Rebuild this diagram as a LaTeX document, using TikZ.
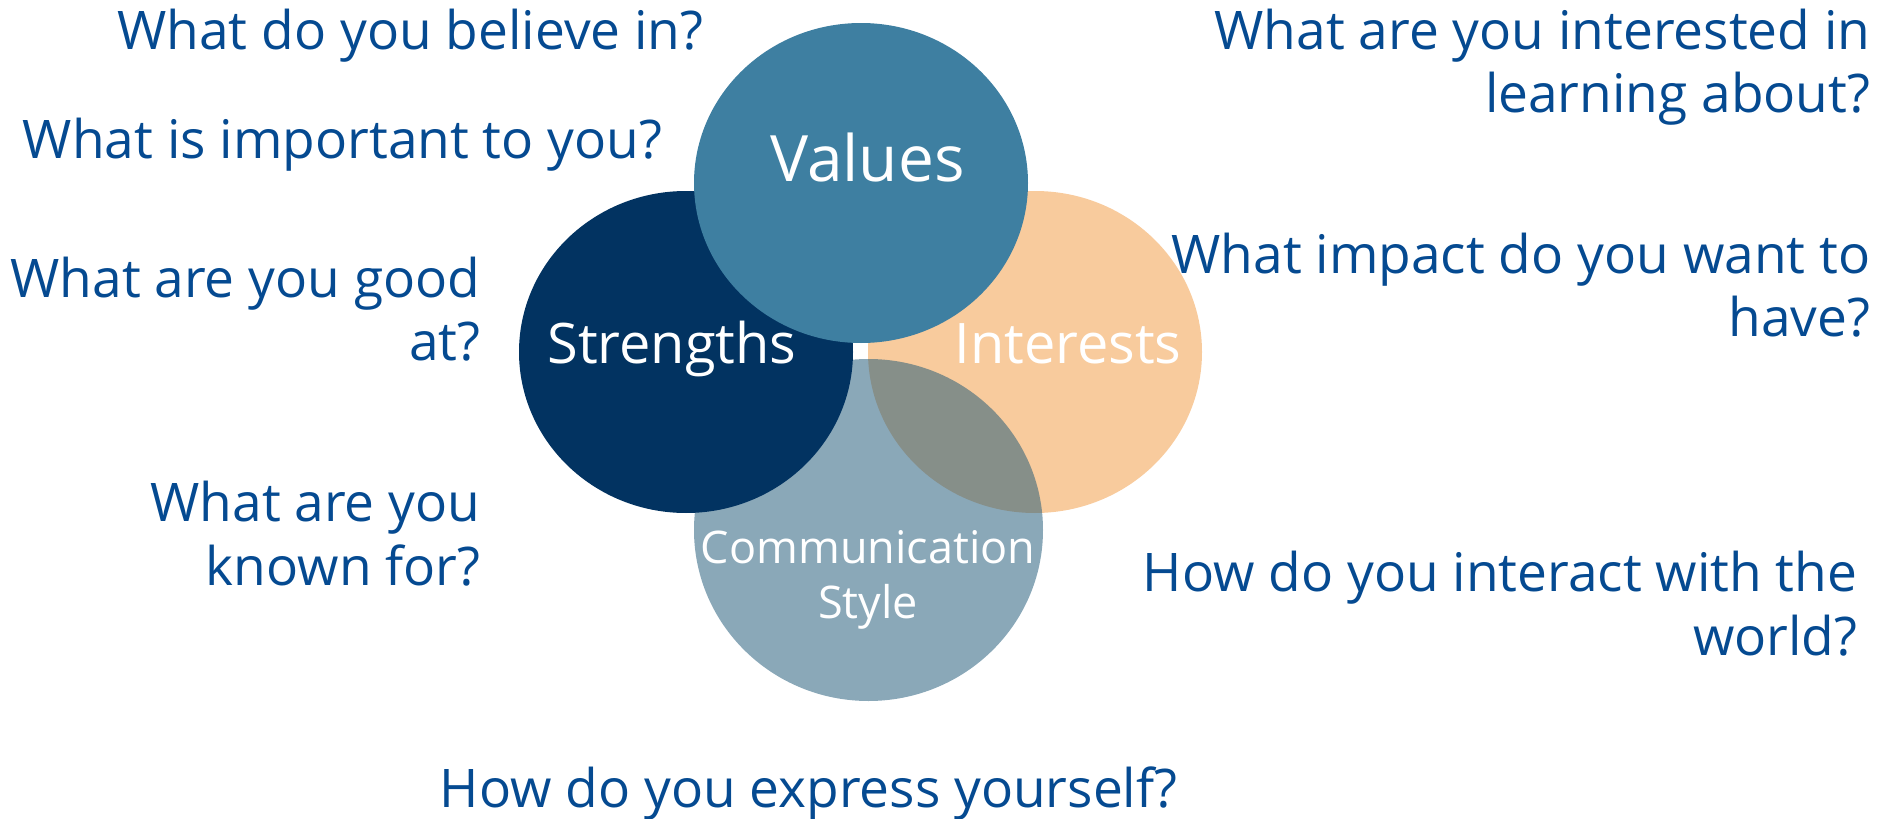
\documentclass[tikz,border=0pt]{standalone}
\usepackage{fontspec}
\setmainfont{Open Sans}
\usetikzlibrary{shapes.geometric}

\definecolor{valblue}{RGB}{62,127,161}
\definecolor{strnavy}{RGB}{2,51,97}
\definecolor{intpeach}{RGB}{248,203,157}
\definecolor{comgrey}{RGB}{32,89,120}
\definecolor{qblue}{RGB}{5,74,145}

\begin{document}
\begin{tikzpicture}[x=0.1mm,y=-0.1mm]

% one unit = one pixel of the sketch, y runs down
\def\px{0.1mm}
% node style definition
% (multi-line nodes sit on the baseline of their last line)
\tikzstyle{blob} = [ellipse, draw=none, inner sep=0pt];
\tikzstyle{question} = [
	text=qblue, inner sep=0pt, align=right, anchor=base east,
	font=\fontsize{15.15}{18}\selectfont ];
\tikzstyle{tag} = [text=white, inner sep=0pt, anchor=base, align=center];

\useasboundingbox (0,0) rectangle (1882,819);

% circles, back to front
\node[blob,fill=intpeach,minimum width=334*\px,minimum height=322*\px] (interests) at (1035,352) {};
\node[blob,fill=comgrey,fill opacity=.525,minimum width=349*\px,minimum height=342*\px] (comm) at (868.5,530) {};
\node[blob,fill=strnavy,minimum width=334*\px,minimum height=322*\px] (strengths) at (686,352) {};
\node[blob,fill=valblue,minimum width=334*\px,minimum height=320*\px] (values) at (861,183) {};

% labels in the circles
\node[tag,font=\fontsize{18.2}{22}\selectfont] (tvalues) at (867.5,181.7) {Values};
\node[tag,font=\fontsize{15.9}{18}\selectfont] (tstrengths) at (672,363) {Strengths};
\node[tag,font=\fontsize{15.9}{18}\selectfont] (tinterests) at (1068,363) {Interests};
\node[tag,font=\fontsize{12.8}{15.65}\selectfont] (tcomm) at (868,618.3) {Communication\\Style};

% questions, left side
\node[question] (qbelieve) at (704,49.3) {What do you believe in?};
\node[question] (qimportant) at (663,158.3) {What is important to you?};
\node[question] (qgood) at (481,360.7) {What are you good\\at?};
\node[question] (qknown) at (481,585) {What are you\\known for?};

% questions, right side
\node[question] (qlearn) at (1871,112.7) {What are you interested in\\learning about?};
\node[question] (qimpact) at (1871,336.7) {What impact do you want to\\have?};
\node[question] (qworld) at (1858,655) {How do you interact with the\\world?};

% question below
\node[question] (qexpress) at (1178,807) {How do you express yourself?};

\end{tikzpicture}
\end{document}
